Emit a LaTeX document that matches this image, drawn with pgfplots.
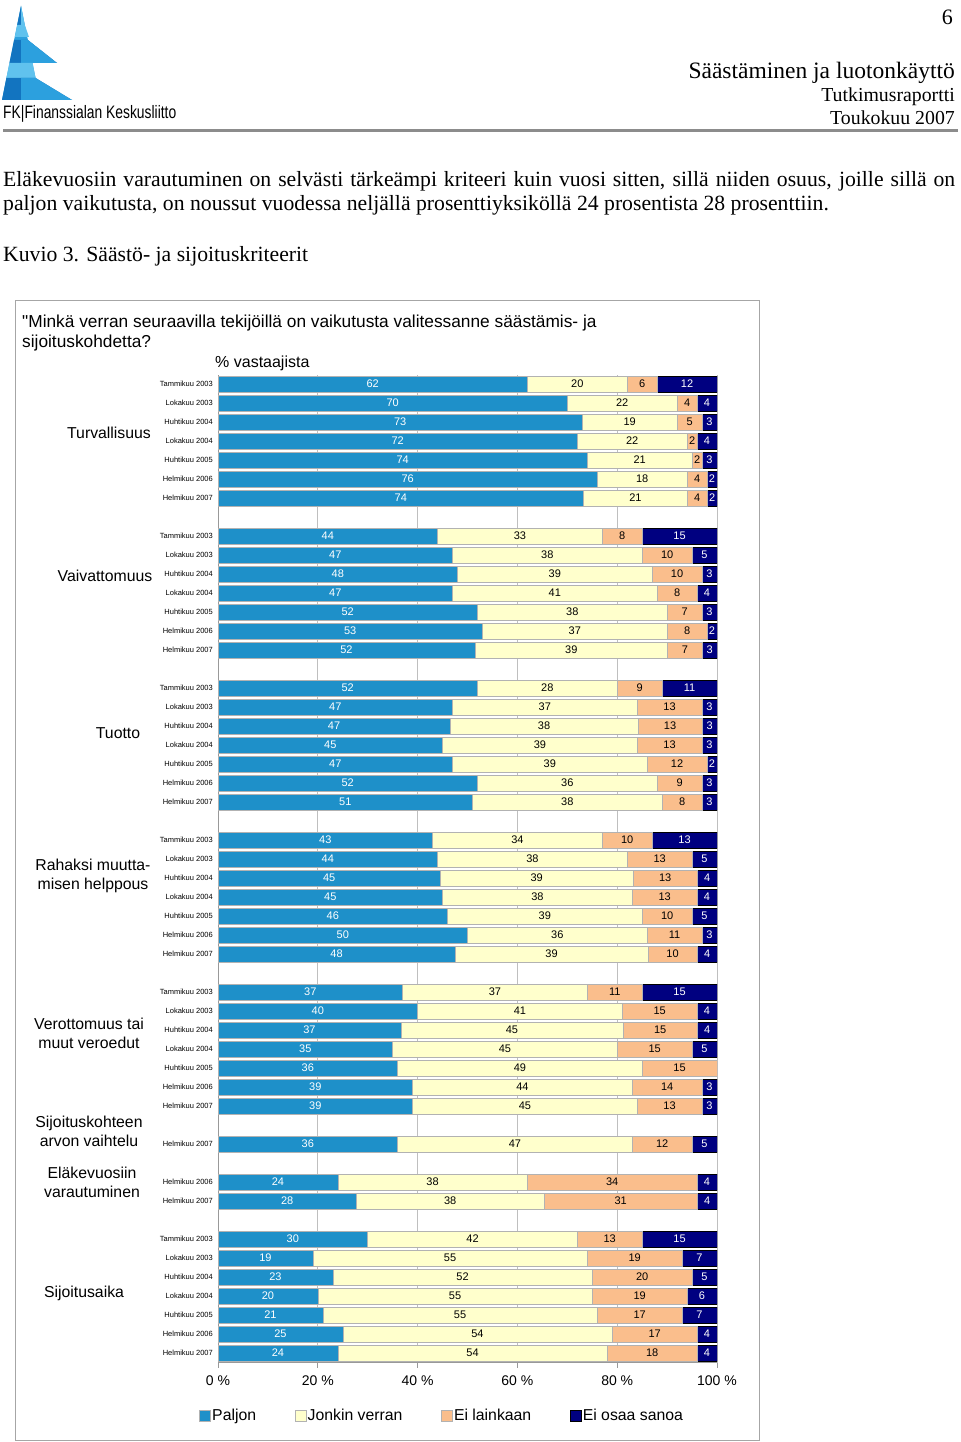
\documentclass[border=0pt]{standalone}
\usepackage{fontspec}
\setmainfont{Liberation Serif}
\newfontfamily\arial{Liberation Sans}
\usepackage{graphicx}
\usepackage{pgfplots}
\pgfplotsset{compat=1.18}
\usepackage{pgfplotstable}

\definecolor{paljon}{RGB}{30,144,201}
\definecolor{jonkin}{RGB}{255,255,204}
\definecolor{eilain}{RGB}{250,190,140}
\definecolor{eiosaa}{RGB}{0,0,128}
\definecolor{logoA}{RGB}{18,116,192}
\definecolor{logoB}{RGB}{44,160,222}
\definecolor{logoC}{RGB}{96,194,238}

\newcommand\fs[2]{\fontsize{#1bp}{#2bp}\selectfont}

% y = row slot from the top, p = Paljon, j = Jonkin verran, e = Ei lainkaan, n = Ei osaa sanoa
\pgfplotstableread{
y  p  j  e  n
0  62 20 6  12
1  70 22 4  4
2  73 19 5  3
3  72 22 2  4
4  74 21 2  3
5  76 18 4  2
6  74 21 4  2
8  44 33 8  15
9  47 38 10 5
10 48 39 10 3
11 47 41 8  4
12 52 38 7  3
13 53 37 8  2
14 52 39 7  3
16 52 28 9  11
17 47 37 13 3
18 47 38 13 3
19 45 39 13 3
20 47 39 12 2
21 52 36 9  3
22 51 38 8  3
24 43 34 10 13
25 44 38 13 5
26 45 39 13 4
27 45 38 13 4
28 46 39 10 5
29 50 36 11 3
30 48 39 10 4
32 37 37 11 15
33 40 41 15 4
34 37 45 15 4
35 35 45 15 5
36 36 49 15 0
37 39 44 14 3
38 39 45 13 3
40 36 47 12 5
42 24 38 34 4
43 28 38 31 4
45 30 42 13 15
46 19 55 19 7
47 23 52 20 5
48 20 55 19 6
49 21 55 17 7
50 25 54 17 4
51 24 54 18 4
}\kriteerit

% bars are drawn as shares of the row total (100 % stacked)
\def\summa{(\thisrow{p}+\thisrow{j}+\thisrow{e}+\thisrow{n})}

\pgfplotsset{
  kehys/.style={
    at={(218bp,-1362.6bp)}, anchor=south west,
    scale only axis, width=499bp, height=988bp,
    xmin=0, xmax=100, ymin=-51.5, ymax=0.5,
  },
}

\begin{document}
\begin{tikzpicture}
\begin{scope}[x=1bp, y=-1bp, every node/.style={inner sep=0pt}]
\path[use as bounding box] (0,0) rectangle (960,1442);
\fill[white] (0,0) rectangle (960,1442);

% logo
\fill[logoB] (21,6) -- (2,100) -- (40,100) -- cycle;
\fill[logoA] (21,6) -- (17.2,25) -- (21,25) -- cycle;
\fill[logoC] (21,6) -- (24.8,25) -- (21,25) -- cycle;
\fill[logoC] (17.2,25) -- (24.8,25) -- (29,37) -- (14.8,37) -- cycle;
\fill[logoA] (14.1,40) -- (27.9,40) -- (57,63) -- (9.5,63) -- cycle;
\fill[logoB] (21,40) -- (27.9,40) -- (57,63) -- (21,63) -- cycle;
\fill[logoC] (9.5,63) -- (32.5,63) -- (35.6,78) -- (6.4,78) -- cycle;
\fill[logoA] (6.4,78) -- (35.6,78) -- (72,100) -- (2,100) -- cycle;
\fill[logoB] (21,78) -- (35.6,78) -- (72,100) -- (21,100) -- cycle;
\node[anchor=base west, font=\arial\fs{18}{20}] at (3,119)
  {\scalebox{0.77}[1]{FK|Finanssialan Keskusliitto}};

% header
\node[anchor=base east, font=\fs{22}{26}] at (953,24.5) {6};
\node[anchor=base east, font=\fs{23.5}{28}] at (955,79) {Säästäminen ja luotonkäyttö};
\node[anchor=base east, font=\fs{19.8}{24}] at (955,102) {Tutkimusraportti};
\node[anchor=base east, font=\fs{19.8}{24}] at (955,125) {Toukokuu 2007};
\fill[black!45] (3,129.5) rectangle (958,132.5);

% body text
\node[anchor=base west, font=\fs{21.7}{26}] at (3,187)
  {\makebox[952bp][s]{Eläkevuosiin varautuminen on selvästi tärkeämpi kriteeri kuin vuosi sitten, sillä niiden osuus, joille sillä on}};
\node[anchor=base west, font=\fs{21.7}{26}] at (3,211)
  {paljon vaikutusta, on noussut vuodessa neljällä prosenttiyksiköllä 24 prosentista 28 prosenttiin.};
\node[anchor=base west, font=\fs{21.7}{26}] at (3,261) {Kuvio 3. Säästö- ja sijoituskriteerit};

% chart frame and titles
\draw[black!35, line width=1bp] (15,300) rectangle (759,1440);
\node[anchor=base west, font=\arial\fs{17.3}{20}] at (22,327)
  {"Minkä verran seuraavilla tekijöillä on vaikutusta valitessanne säästämis- ja};
\node[anchor=base west, font=\arial\fs{17.3}{20}] at (22,347) {sijoituskohdetta?};
\node[anchor=base west, font=\arial\fs{16}{20}] at (215,367) {\% vastaajista};

% group labels
\begin{scope}[every node/.style={inner sep=0pt, align=center, font=\arial\fs{15.8}{19}}]
\node at (109,433) {Turvallisuus};
\node at (105,576) {Vaivattomuus};
\node at (118,733) {Tuotto};
\node at (93,876) {Rahaksi muutta-\\misen helppous};
\node at (89,1033) {Verottomuus tai\\muut veroedut};
\node at (89,1131) {Sijoituskohteen\\arvon vaihtelu};
\node at (92,1182) {Eläkevuosiin\\varautuminen};
\node at (84,1293) {Sijoitusaika};
\end{scope}
\end{scope}

% bars
\begin{axis}[
  kehys,
  xbar stacked, bar width=16bp,
  axis x line*=bottom, axis y line*=left,
  axis line style={black!40, line width=0.8bp},
  xtick={0,20,...,100},
  xticklabels={0 \%,20 \%,40 \%,60 \%,80 \%,100 \%},
  xmajorgrids, grid style={black!25, line width=0.8bp},
  tick align=outside, major tick length=5bp,
  xtick style={black!40, line width=0.8bp},
  xticklabel style={font=\arial\fs{14}{16}, yshift=-5bp},
  ytick={0,-1,...,-6,-8,-9,...,-14,-16,-17,...,-22,-24,-25,...,-30,-32,-33,...,-38,-40,-42,-43,-45,-46,...,-51},
  yticklabels={
    Tammikuu 2003,Lokakuu 2003,Huhtikuu 2004,Lokakuu 2004,Huhtikuu 2005,Helmikuu 2006,Helmikuu 2007,
    Tammikuu 2003,Lokakuu 2003,Huhtikuu 2004,Lokakuu 2004,Huhtikuu 2005,Helmikuu 2006,Helmikuu 2007,
    Tammikuu 2003,Lokakuu 2003,Huhtikuu 2004,Lokakuu 2004,Huhtikuu 2005,Helmikuu 2006,Helmikuu 2007,
    Tammikuu 2003,Lokakuu 2003,Huhtikuu 2004,Lokakuu 2004,Huhtikuu 2005,Helmikuu 2006,Helmikuu 2007,
    Tammikuu 2003,Lokakuu 2003,Huhtikuu 2004,Lokakuu 2004,Huhtikuu 2005,Helmikuu 2006,Helmikuu 2007,
    Helmikuu 2007,
    Helmikuu 2006,Helmikuu 2007,
    Tammikuu 2003,Lokakuu 2003,Huhtikuu 2004,Lokakuu 2004,Huhtikuu 2005,Helmikuu 2006,Helmikuu 2007},
  ytick style={draw=none},
  yticklabel style={font=\arial\fs{7.5}{9}, inner sep=0pt, xshift=0bp},
  legend style={at={(-0.044,-0.054)}, anchor=west, draw=none, fill=none,
    legend columns=4, font=\arial\fs{15.8}{17},
    nodes={inner sep=1.5bp},
    /tikz/every even column/.append style={column sep=37bp}},
  legend cell align=left,
  legend image code/.code={\draw[#1] (0bp,-5.5bp) rectangle (11bp,5.5bp);},
]
\addplot[fill=paljon, draw=black!30, line width=0.5bp]
  table[x expr=100*\thisrow{p}/\summa, y expr=-\thisrow{y}]{\kriteerit};
\addlegendentry{Paljon}
\addplot[fill=jonkin, draw=black!30, line width=0.5bp]
  table[x expr=100*\thisrow{j}/\summa, y expr=-\thisrow{y}]{\kriteerit};
\addlegendentry{Jonkin verran}
\addplot[fill=eilain, draw=black!30, line width=0.5bp]
  table[x expr=100*\thisrow{e}/\summa, y expr=-\thisrow{y}]{\kriteerit};
\addlegendentry{Ei lainkaan}
\addplot[fill=eiosaa, draw=black, line width=0.5bp]
  table[x expr=100*\thisrow{n}/\summa, y expr=-\thisrow{y}]{\kriteerit};
\addlegendentry{Ei osaa sanoa}
\end{axis}

% value labels in the middle of each segment
\begin{axis}[
  kehys, hide axis, clip=false,
  /pgf/number format/assume math mode=true,
  point meta=explicit, nodes near coords,
  every node near coord/.append style={anchor=center, inner sep=0pt, font=\arial\fs{11}{12}},
]
\addplot[draw=none, mark=none, every node near coord/.append style={text=white}]
  table[x expr=50*\thisrow{p}/\summa, y expr=-\thisrow{y}, meta=p]{\kriteerit};
\addplot[draw=none, mark=none, every node near coord/.append style={text=black}]
  table[x expr=100*(\thisrow{p}+\thisrow{j}/2)/\summa, y expr=-\thisrow{y}, meta=j]{\kriteerit};
\addplot[draw=none, mark=none, every node near coord/.append style={text=black}]
  table[x expr=100*(\thisrow{p}+\thisrow{j}+\thisrow{e}/2)/\summa, y expr=-\thisrow{y}, meta=e]{\kriteerit};
\addplot[draw=none, mark=none, skip coords between index={32}{33},
  every node near coord/.append style={text=white}]
  table[x expr=100-50*\thisrow{n}/\summa, y expr=-\thisrow{y}, meta=n]{\kriteerit};
\end{axis}
\end{tikzpicture}
\end{document}
